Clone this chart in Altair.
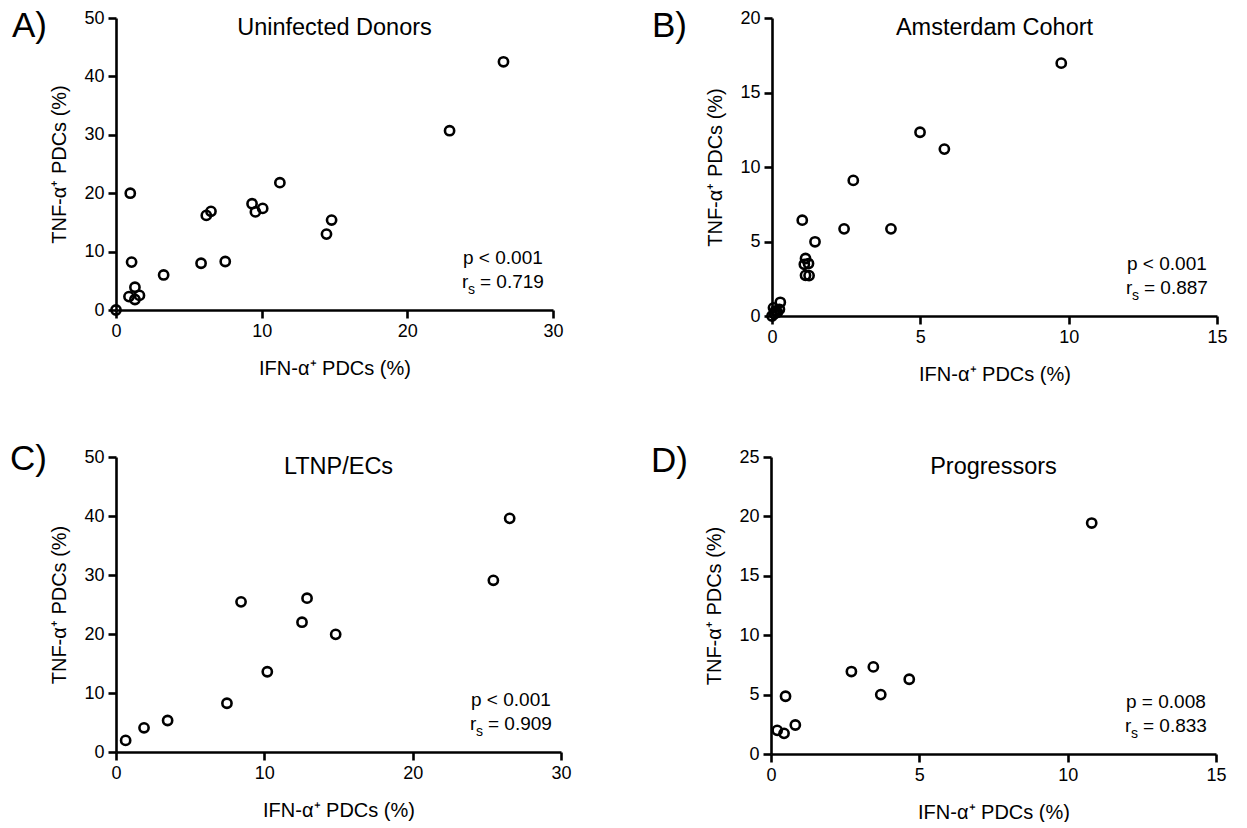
import altair as alt
import pandas as pd

FONT = "Liberation Sans"

# ---- data ----
a_x = [26.6, 22.9, 11.25, 0.98, 9.34, 9.57, 10.07, 6.2, 6.52, 14.8, 14.45, 5.84, 7.5, 1.07, 3.27, 1.3, 0.89, 1.61, 1.3, 0.0]
a_y = [42.5, 30.7, 21.8, 20.0, 18.2, 16.8, 17.4, 16.2, 16.9, 15.4, 13.0, 8.0, 8.3, 8.2, 6.0, 3.9, 2.3, 2.5, 1.8, 0.0]

b_x = [9.75, 4.99, 5.81, 2.74, 2.43, 4.01, 1.02, 1.45, 1.13, 1.23, 1.09, 1.13, 1.25, 0.28, 0.25, 0.12, 0.05, 0.08, 0.0, 0.18]
b_y = [16.97, 12.33, 11.2, 9.1, 5.85, 5.85, 6.43, 4.98, 3.86, 3.52, 3.47, 2.73, 2.71, 0.92, 0.45, 0.35, 0.55, 0.15, 0.0, 0.25]

c_x = [26.54, 25.44, 12.88, 8.43, 12.54, 14.81, 10.2, 7.48, 3.48, 1.89, 0.65]
c_y = [39.6, 29.1, 26.07, 25.45, 22.0, 19.94, 13.6, 8.26, 5.34, 4.1, 1.97]

d_x = [10.81, 3.45, 2.71, 4.66, 3.70, 0.49, 0.82, 0.21, 0.44]
d_y = [19.44, 7.33, 6.94, 6.29, 5.0, 4.86, 2.44, 1.99, 1.74]

titles = ["Uninfected Donors", "Amsterdam Cohort", "LTNP/ECs", "Progressors"]
letters = ["A)", "B)", "C)", "D)"]
p_texts = ["p < 0.001", "p < 0.001", "p < 0.001", "p = 0.008"]
rs_texts = ["= 0.719", "= 0.887", "= 0.909", "= 0.833"]
x_ticks_30 = [0, 10, 20, 30]
x_ticks_15 = [0, 5, 10, 15]
y_ticks_50 = [0, 10, 20, 30, 40, 50]
y_ticks_20 = [0, 5, 10, 15, 20]
y_ticks_25 = [0, 5, 10, 15, 20, 25]

X_TITLE = "IFN-\u03b1\u207a PDCs (%)"
Y_TITLE = "TNF-\u03b1\u207a PDCs (%)"


def txt(s):
    return pd.DataFrame({"t": [s]})


def panel(xs, ys, idx, xmax, ymax, xticks, yticks, W, H, ldx, ldy):
    df = pd.DataFrame({"x": xs, "y": ys})
    pts = alt.Chart(df).mark_point(
        shape="circle", filled=False, size=85, strokeWidth=2.6, color="black", opacity=1
    ).encode(
        x=alt.X("x:Q", scale=alt.Scale(domain=[0, xmax], nice=False, zero=True),
                axis=alt.Axis(values=xticks, title=X_TITLE, format="d", titlePadding=18)),
        y=alt.Y("y:Q", scale=alt.Scale(domain=[0, ymax], nice=False, zero=True),
                axis=alt.Axis(values=yticks, title=Y_TITLE, format="d", titlePadding=14)),
    )
    title = alt.Chart(txt(titles[idx])).mark_text(
        font=FONT, fontSize=23.5, baseline="middle", align="center", color="black"
    ).encode(x=alt.value(W / 2), y=alt.value(10), text="t:N")
    letter = alt.Chart(txt(letters[idx])).mark_text(
        font=FONT, fontSize=35, baseline="middle", align="left", color="black"
    ).encode(x=alt.value(ldx), y=alt.value(ldy), text="t:N")
    ptxt = alt.Chart(txt(p_texts[idx])).mark_text(
        font=FONT, fontSize=19, baseline="middle", align="left", color="black"
    ).encode(x=alt.value(W - 90), y=alt.value(H - 52), text="t:N")
    rtxt = alt.Chart(txt("r")).mark_text(
        font=FONT, fontSize=19, baseline="middle", align="left", color="black"
    ).encode(x=alt.value(W - 91), y=alt.value(H - 28), text="t:N")
    stxt = alt.Chart(txt("s")).mark_text(
        font=FONT, fontSize=14, baseline="middle", align="left", color="black"
    ).encode(x=alt.value(W - 85), y=alt.value(H - 20), text="t:N")
    eqtxt = alt.Chart(txt(rs_texts[idx])).mark_text(
        font=FONT, fontSize=19, baseline="middle", align="left", color="black"
    ).encode(x=alt.value(W - 73), y=alt.value(H - 28), text="t:N")
    return alt.layer(pts, title, letter, ptxt, rtxt, stxt, eqtxt).properties(width=W, height=H)


pA = panel(a_x, a_y, 0, 30, 50, x_ticks_30, y_ticks_50, 437, 292, -104, 8)
pB = panel(b_x, b_y, 1, 15, 20, x_ticks_15, y_ticks_20, 445, 298, -120, 8)
pC = panel(c_x, c_y, 2, 30, 50, x_ticks_30, y_ticks_50, 445, 295, -106, 2)
pD = panel(d_x, d_y, 3, 15, 25, x_ticks_15, y_ticks_25, 445, 297, -120, 4)

chart = alt.vconcat(
    alt.hconcat(pA, pB, spacing=88),
    alt.hconcat(pC, pD, spacing=79),
    spacing=58,
).configure_view(stroke=None).configure_axis(
    labelFont=FONT, labelFontSize=18, labelColor="black", labelPadding=4,
    titleFont=FONT, titleFontSize=20, titleFontWeight="normal", titleColor="black",
    domainColor="black", domainWidth=2.6, tickColor="black",
    tickWidth=2.6, tickSize=8, grid=False, labelFlush=False,
).properties(background="white", padding={"left": 2, "top": 1, "right": 0, "bottom": 0})

chart.save("out.html", embed_options={"renderer": "svg", "actions": False})
